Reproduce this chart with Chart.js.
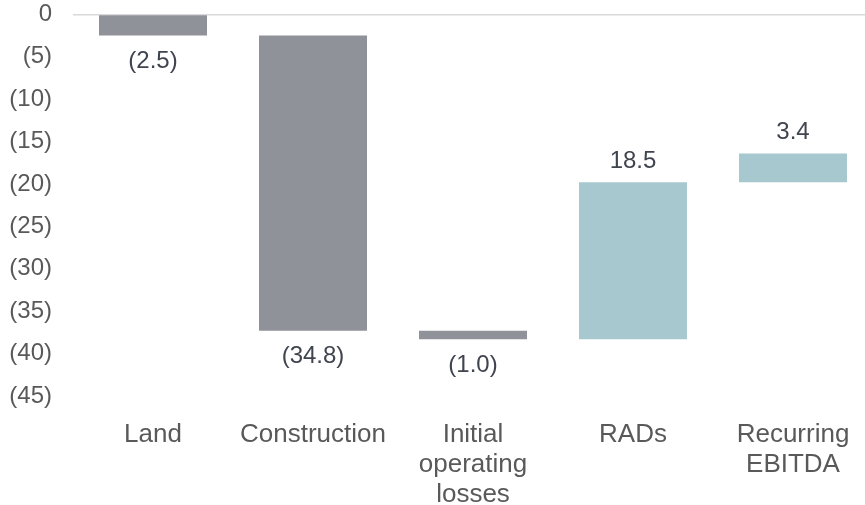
<!DOCTYPE html>
<html>
<head>
<meta charset="utf-8">
<style>
  html, body { margin: 0; padding: 0; background: #fff; overflow: hidden; }
  #wrap { width: 875px; height: 505px; }
</style>
<script src="https://cdn.jsdelivr.net/npm/chart.js@4/dist/chart.umd.min.js"></script>
</head>
<body>
<div id="wrap"><canvas id="bridge" width="875" height="505"></canvas></div>
<script>
// development cost bridge, values in millions
const categories = [['Land'], ['Construction'], ['Initial', 'operating', 'losses'], ['RADs'], ['Recurring', 'EBITDA']];
const changes = [-2.5, -34.8, -1.0, 18.5, 3.4];
const yTicks = [0, -5, -10, -15, -20, -25, -30, -35, -40, -45];

const GREY = '#8f9299';
const TEAL = '#a7c8ce';
const FONT = '"Liberation Sans", Arial, sans-serif';

// each bar floats from the running total before it to the running total after it
let running = 0;
const floating = changes.map(v => {
  const from = running;
  running += v;
  return [from, running];
});

const fmt = v => v < 0 ? '(' + Math.abs(v).toFixed(1) + ')' : v.toFixed(1);

const valueLabels = {
  id: 'valueLabels',
  afterDatasetsDraw(chart) {
    const c = chart.ctx;
    const meta = chart.getDatasetMeta(0);
    c.save();
    c.font = '24px ' + FONT;
    c.fillStyle = '#40444f';
    c.textAlign = 'center';
    c.textBaseline = 'middle';
    meta.data.forEach((bar, i) => {
      const v = changes[i];
      const y = v < 0 ? Math.max(bar.y, bar.base) + 26 : Math.min(bar.y, bar.base) - 21;
      c.fillText(fmt(v), bar.x, y);
    });
    c.restore();
  }
};

new Chart(document.getElementById('bridge'), {
  type: 'bar',
  data: {
    labels: categories,
    datasets: [{
      data: floating,
      backgroundColor: changes.map(v => v < 0 ? GREY : TEAL),
      borderWidth: 0,
      categoryPercentage: 1,
      barPercentage: 0.675
    }]
  },
  options: {
    responsive: false,
    animation: false,
    layout: { padding: { top: 0, right: 2, left: 0, bottom: 0 } },
    plugins: { legend: { display: false }, tooltip: { enabled: false } },
    scales: {
      x: {
        grid: { display: false },
        border: { display: false },
        ticks: { color: '#595959', font: { family: FONT, size: 26, lineHeight: 1.15 }, padding: 16, maxRotation: 0, autoSkip: false },
        afterFit(scale) { scale.height = 109; }
      },
      y: {
        min: -45,
        max: 0,
        afterBuildTicks(scale) { scale.ticks = yTicks.map(v => ({ value: v })); },
        grid: {
          // invisible tick marks keep the labels clear of the plot
          drawTicks: true,
          tickLength: 21,
          tickColor: 'rgba(0,0,0,0)',
          lineWidth: 1.5,
          color: ctx => ctx.tick && ctx.tick.value === 0 ? '#d9d9d9' : 'rgba(0,0,0,0)'
        },
        border: { display: false },
        ticks: {
          color: '#595959',
          font: { family: FONT, size: 24 },
          padding: 0,
          callback: v => v === 0 ? '0' : '(' + Math.abs(v) + ')'
        },
        afterFit(scale) { scale.width = 73; }
      }
    }
  },
  plugins: [valueLabels]
});
</script>
</body>
</html>
